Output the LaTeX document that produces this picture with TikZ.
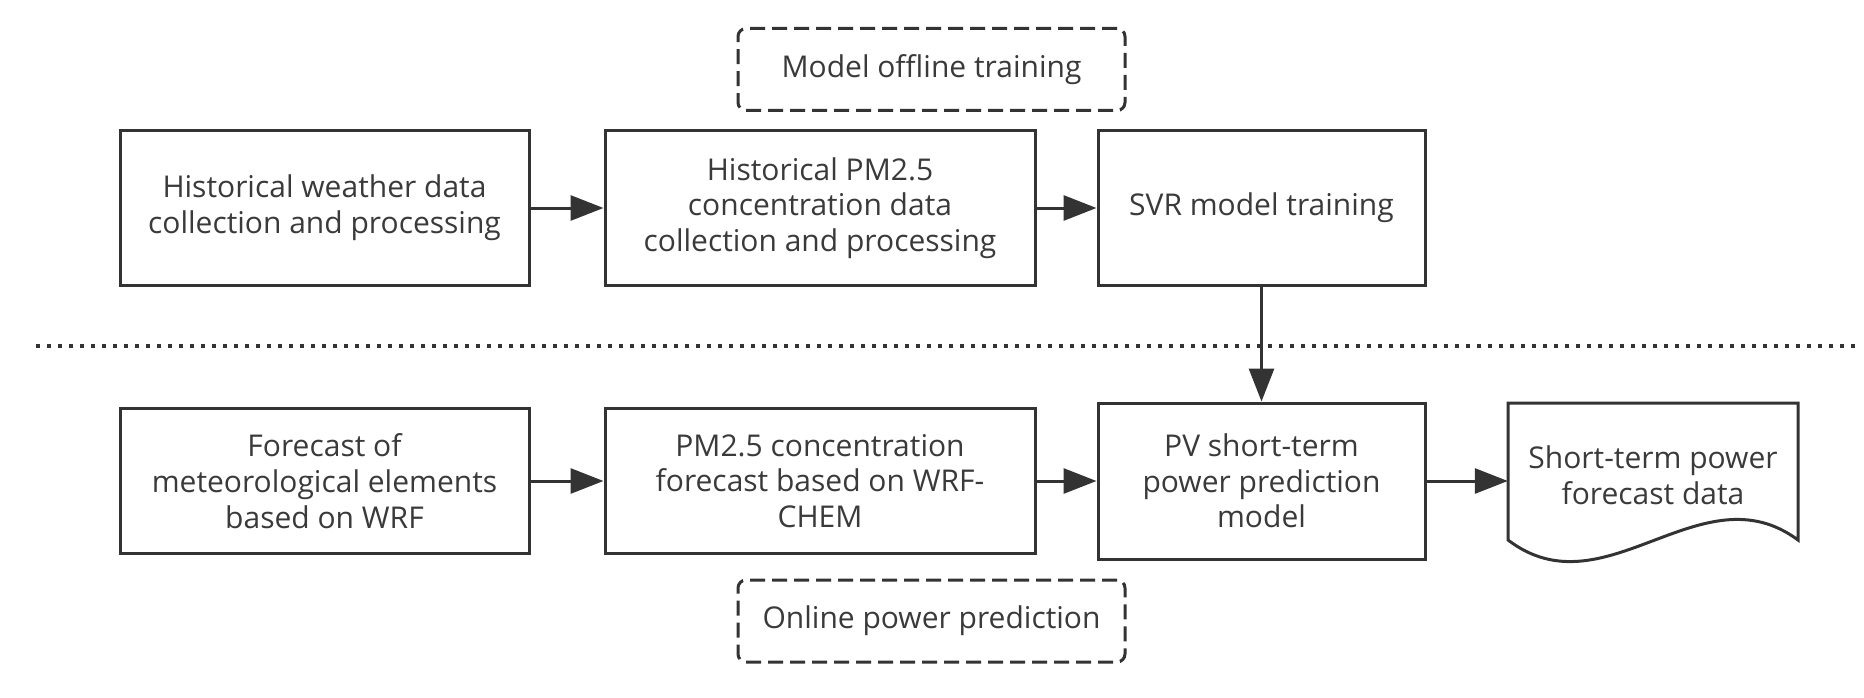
\documentclass[tikz,border=0pt]{standalone}
\usepackage{fontspec}
\setmainfont{Open Sans}
\usepackage{xcolor}
\usetikzlibrary{positioning,arrows.meta}
\definecolor{ink}{HTML}{333333}
\definecolor{txt}{HTML}{3a3a3a}

\begin{document}
\begin{tikzpicture}[x=1pt,y=-1pt,
    font=\fontsize{30}{35.7}\selectfont,
    box/.style={draw=ink,line width=3pt,align=center,text=txt,inner sep=2pt},
    wide/.style={box,minimum width=409pt,minimum height=154pt},
    tag/.style={draw=ink,line width=3pt,dash pattern=on 15pt off 7pt,rounded corners=8pt,
        minimum width=387pt,minimum height=82pt,text=txt},
    flow/.style={draw=ink,line width=3pt,-{Triangle[length=33pt,width=25pt]}}
]

\useasboundingbox (0,0) rectangle (1864,698);

% offline part
\node[tag] (offline) at (931.5,69.5) {Model offline training};
\node[wide] (hweather) at (324.5,208) {Historical weather data\\collection and processing};
\node[wide,minimum width=430pt] (hpm) at (820,208) {Historical PM2.5\\concentration data\\collection and processing};
\node[wide,minimum width=327pt] (svr) at (1261.5,208) {SVR model training};

\draw[ink,line width=4pt,dash pattern=on 4pt off 7pt] (36,346) -- (1855,346);

% online part
\node[wide,minimum height=145pt] (fcmeteo) at (324.5,481) {Forecast of\\meteorological elements\\based on WRF};
\node[wide,minimum width=430pt,minimum height=145pt] (fcpm) at (820,481) {PM2.5 concentration\\forecast based on WRF-\\CHEM};
\node[wide,minimum width=327pt,minimum height=156pt] (pvmodel) at (1261.5,481) {PV short-term\\power prediction\\model};
\node[align=center,text=txt,minimum width=290pt] (doc) at (1653,475) {Short-term power\\forecast data};
\draw[ink,line width=3pt] (1508,540) -- (1508,403) -- (1798,403) -- (1798,540)
    .. controls (1701,468) and (1605,614) .. (1508,540) -- cycle;
\node[tag] (online) at (931.5,621) {Online power prediction};

\draw[flow] (hweather) -- (hpm);
\draw[flow] (hpm) -- (svr);
\draw[flow] (svr) -- (pvmodel);
\draw[flow] (fcmeteo) -- (fcpm);
\draw[flow] (fcpm) -- (pvmodel);
\draw[flow] (pvmodel) -- (pvmodel -| doc.west);

\end{tikzpicture}
\end{document}
